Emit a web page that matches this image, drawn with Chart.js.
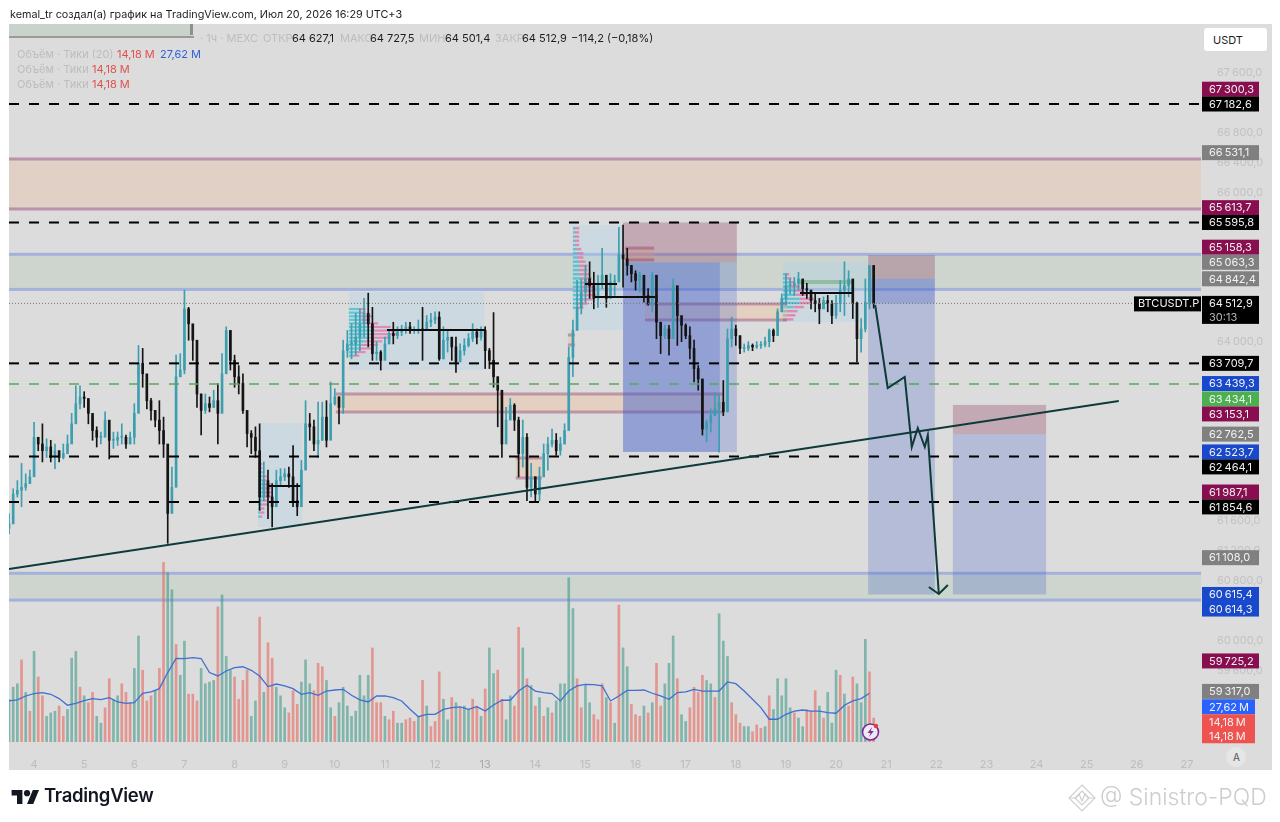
<!DOCTYPE html>
<html>
<head>
<meta charset="utf-8">
<title>BTCUSDT.P</title>
<script src="https://cdn.jsdelivr.net/npm/chart.js@4"></script>
<style>
  html, body { margin: 0; padding: 0; background: #fff; }
  body { width: 1280px; height: 822px; position: relative; overflow: hidden; font-family: Inter, "Liberation Sans", sans-serif; }
  #pane { position: absolute; left: 9px; top: 24px; width: 1263px; height: 746px; background: #dcdcdc; }
  #chart { position: absolute; left: 0; top: 0; }
  .t { position: absolute; white-space: nowrap; font-size: 11px; line-height: 14px; }
  .faint { color: #bdbdbd; }
  .dark { color: #1c1c1c; }
  .red { color: #e0524d; }
  .blue { color: #2f62d8; }
</style>
</head>
<body>
<div id="pane"></div>
<canvas id="chart" width="1280" height="822"></canvas>

<div class="t dark" style="left:10px;top:8px;font-size:10.8px">kemal_tr создал(а) график на TradingView.com, Июл 20, 2026 16:29 UTC+3</div>
<div style="position:absolute;left:9px;top:24px;width:182px;height:12px;background:#c9d3cc"></div>
<div style="position:absolute;left:9px;top:36px;width:185px;height:2px;background:#9a9a9a"></div>
<div style="position:absolute;left:190px;top:24px;width:3px;height:11px;background:#8f8f8f"></div>
<div class="t faint" style="left:200px;top:31px">· 1ч · MEXC</div>
<div class="t faint" style="left:263px;top:31px">ОТКР</div>
<div class="t dark" style="left:292px;top:31px">64 627,1</div>
<div class="t faint" style="left:340px;top:31px">МАКС</div>
<div class="t dark" style="left:370px;top:31px">64 727,5</div>
<div class="t faint" style="left:419px;top:31px">МИН</div>
<div class="t dark" style="left:445px;top:31px">64 501,4</div>
<div class="t faint" style="left:495px;top:31px">ЗАКР</div>
<div class="t dark" style="left:522px;top:31px">64 512,9</div>
<div class="t dark" style="left:571px;top:31px">−114,2 (−0,18%)</div>
<div class="t faint" style="left:17px;top:47px">Объём · Тики (20)</div>
<div class="t red" style="left:117px;top:47px">14,18 M</div>
<div class="t blue" style="left:160px;top:47px">27,62 M</div>
<div class="t faint" style="left:17px;top:62px">Объём · Тики</div>
<div class="t red" style="left:92px;top:62px">14,18 M</div>
<div class="t faint" style="left:17px;top:77px">Объём · Тики</div>
<div class="t red" style="left:92px;top:77px">14,18 M</div>

<div style="position:absolute;left:1204px;top:28px;width:63px;height:23px;background:#fff;border-radius:3px"></div>
<div class="t dark" style="left:1213px;top:33px">USDT</div>
<div style="position:absolute;left:1226px;top:747px;width:20px;height:20px;border-radius:10px;background:#e6e6e6"></div>
<div class="t" style="left:1233px;top:750px;font-size:10px;color:#555">A</div>

<svg style="position:absolute;left:861px;top:722px" width="20" height="20" viewBox="0 0 20 20">
  <circle cx="9.5" cy="10" r="8" fill="#efe9f2" stroke="#7b2d9c" stroke-width="1.6"/>
  <path d="M11 5 L6.5 11 H9.5 L8 15 L12.8 9 H9.8 Z" fill="#7b2d9c"/>
  <circle cx="15" cy="4" r="2.2" fill="#e0403c"/>
</svg>

<svg style="position:absolute;left:11px;top:787px" width="29" height="17" viewBox="0 0 36 22">
  <path d="M14 22H7V11H0V4h14v18zM28 22h-8l7.5-18h8L28 22z" fill="#131722"/>
  <circle cx="20" cy="8" r="4" fill="#131722"/>
</svg>
<div class="t" style="left:44px;top:784px;font-size:18.5px;line-height:22px;font-weight:600;color:#131722;letter-spacing:-0.3px">TradingView</div>

<svg style="position:absolute;left:1067px;top:783px" width="30" height="30" viewBox="0 0 30 30" fill="none" stroke="#cfcfcf" stroke-width="1.2">
  <path d="M15 2 L28 15 L15 28 L2 15 Z"/><path d="M15 8 L22 15 L15 22 L8 15 Z"/><path d="M2 15 H9 L12 11 L15 18 L18 11 L21 15 H28"/>
</svg>
<div class="t" style="left:1100px;top:784px;font-size:23px;line-height:26px;color:#cdcdcd;font-weight:300">@ Sinistro-PQD</div>

<script>
// 2h candles, first one sits at day 3.5
const firstDay = 3.5;
const barDays = 1 / 12;
const firstOpen = 61500;

const closes = [
  61560,61960,62010,62050,62100,62190,62720,62630,62540,62590,62450,62540,
  62450,62500,62630,62900,63170,63260,63240,63040,62810,62720,62720,62950,
  62680,62680,62720,62720,62630,62720,63040,63710,63570,63210,63080,62950,
  62810,62630,61700,62050,63530,63620,64440,64240,64020,63300,63080,63170,
  63120,63210,63040,63570,64150,63750,63530,63440,63080,62770,62720,62540,
  61920,62140,61920,61790,62140,62190,62230,62190,61870,61790,62280,62900,
  62860,62630,62680,62990,62680,63170,63260,63120,63880,63970,63970,64060,
  64240,64380,64240,63840,63860,63750,63970,64110,64080,64130,64170,64200,
  64150,64150,64170,64150,64260,64290,64330,63770,64020,64060,63930,63730,
  63880,63950,64040,64130,64060,64150,63880,63750,63530,63350,62630,62950,
  63150,62950,62500,62720,62050,62190,61960,62190,62500,62630,62680,62540,
  62630,62810,63790,64150,64460,64660,64840,64750,64580,64780,64890,64580,
  64800,64800,65160,65110,65020,64910,64820,64890,64620,64510,64890,64260,
  64080,64170,64040,64750,64350,64220,64080,63910,63640,63500,62830,62920,
  63010,63100,63190,63060,64040,64170,64080,63910,63910,63950,63930,63950,
  63960,64000,64150,64080,64400,64580,64750,64750,64780,64840,64710,64690,
  64550,64510,64440,64550,64510,64350,64510,64690,64750,64840,64510,64040,
  64170,64530,65020,64512.9
];
const highs = [
  61700,62030,62140,62370,62230,62280,62920,62720,62900,62700,62680,62630,
  62540,62630,62750,63040,63410,63410,63330,63210,62990,62860,62790,63060,
  62900,62790,62790,62900,62750,62790,63170,63950,63910,63440,63240,63080,
  63210,62990,62450,62320,63820,63840,64690,64460,64150,63750,63300,63300,
  63260,63350,63440,63840,64200,64150,63820,63680,63570,63060,62810,62860,
  62900,62390,62280,62100,62280,62300,62300,62320,62610,62100,62410,63210,
  63040,62950,63190,63190,63210,63460,63370,63260,64020,64150,64240,64380,
  64440,64580,64650,64460,64000,63880,64060,64150,64260,64200,64220,64260,
  64260,64200,64290,64460,64350,64380,64400,64400,64200,64150,64060,64060,
  63970,64040,64110,64240,64170,64200,64200,63910,64390,63530,63040,63120,
  63240,63170,62990,62950,62770,62370,62190,62320,62630,62720,62830,62770,
  62720,62900,63930,64290,64820,64840,65020,65070,64930,64890,65250,64840,
  64910,64890,65530,65560,65250,65020,64950,64930,64800,64710,64930,64620,
  64260,64220,64220,64840,64660,64260,64240,64200,64020,63680,63500,62950,
  63100,63320,63280,63480,64170,64330,64220,64080,63970,64000,63970,64000,
  64000,64060,64170,64170,64440,64640,64910,64840,64860,64930,64800,64780,
  64690,64640,64580,64600,64620,64550,64620,64820,65070,64950,64820,64530,
  64310,64840,65020,65020
];
const lows = [
  61430,61700,61920,61790,62010,62100,62450,62540,62390,62450,62390,62300,
  62390,62430,62540,62720,62950,63100,63120,62900,62680,62590,62630,62770,
  62430,62570,62610,62630,62570,62630,62630,63530,63390,63100,62950,62860,
  62630,62450,61300,61740,63390,63530,63570,64020,63750,63120,62750,63040,
  63060,63120,62630,63300,63840,63620,63390,63300,63040,62590,62500,62450,
  61740,61870,61630,61520,61870,62080,62140,62050,61790,61670,61960,62630,
  62680,62540,62450,62680,62590,63040,63150,62900,63040,63790,63770,63820,
  63880,64060,63930,63750,63750,63620,63790,63970,63970,64040,64080,64110,
  64110,64110,64110,63750,64150,64200,64240,63750,63770,63860,63750,63590,
  63730,63820,63930,64000,63970,64020,63640,63640,63390,62860,62450,62720,
  63040,62810,62190,62320,61870,61920,61870,61870,62280,62280,62590,62480,
  62480,62630,62860,63530,64200,64370,64530,64580,64440,64460,64710,64460,
  64600,64620,64840,64730,64890,64800,64690,64660,64530,64490,64400,64040,
  63840,64040,63820,64260,63950,64000,64040,63770,63460,63350,62750,62660,
  62790,63010,62520,63010,63060,63930,63950,63840,63860,63880,63880,63910,
  63910,63930,63930,64000,64150,64400,64490,64640,64620,64690,64620,64580,
  64440,64400,64240,64440,64400,64240,64310,64400,64350,64600,64310,63730,
  63860,64130,64440,64450
];
// ticks volume in millions, negative = red bar
const volumes = [
  25,32,34,-48,29,-18,53,-38,-27,15,17,18,
  -21,-15,19,49,53,-32,27,-23,-29,15,11,-20,
  -37,25,27,-34,-29,-23,43,62,-42,-24,-27,30,
  -43,-105,99,89,-57,39,59,-28,-28,-24,43,34,
  35,36,-79,86,50,42,-38,-25,-36,-42,15,24,
  -73,29,-58,-49,32,27,20,-17,-30,-22,35,48,
  34,-30,-46,-44,36,20,-15,23,32,21,15,18,
  39,27,39,-55,-23,-23,15,-13,-18,11,11,-13,
  -14,-12,15,-36,21,-9,-12,-41,25,13,-26,23,
  -20,21,19,-25,-21,15,-31,55,40,-42,-25,13,
  27,-21,-67,55,-37,33,-21,26,-15,20,-17,24,
  34,34,96,78,-37,-20,33,23,-16,-13,-34,26,
  -23,11,-80,55,44,-22,-16,-15,21,-17,23,-46,
  -21,34,46,62,-37,16,12,-20,-32,-29,-39,36,
  34,-26,75,59,50,-23,-16,-11,9,9,-6,-10,
  -8,9,-27,19,37,27,37,20,-17,14,9,-19,
  -18,-30,21,-14,29,11,42,-39,28,-21,-38,34,
  23,60,-41,-14
];
// volume MA, one value every second candle
const volumeMA = [
  24,24.6,26.9,28.3,28.9,27.9,25.4,21.5,22.6,24.2,25.4,24.8,25.9,23.4,22.6,23,28.5,29.3,
  31.2,40.6,48.9,48.8,49.3,48.8,40.6,38.6,41.5,43.5,44,41.9,38.6,32.4,33.9,32.8,31.2,27.9,
  28.9,27.3,29.8,30.4,30.8,27.3,24.6,23.4,26.9,26.9,25.9,24,19.1,14.8,16.2,16.2,19.1,
  20.1,20.5,19.1,20.7,18.1,21.6,24.4,24.4,29.8,33.2,29.8,28.9,28.3,24,29.8,32.8,33.7,33.5,
  32.8,24,26.9,30.2,30.2,30.4,28.5,26.9,25,28.9,29.3,30.8,29.8,29.8,29.8,35.1,34.1,29.8,
  25,20.1,13.3,13.3,16.2,18.1,18.7,18.1,18.1,17.2,16.8,21.5,24,25.4,28.5
];

const dayLabels = [4,5,6,7,8,9,10,11,12,13,14,15,16,17,18,19,20,21,22,23,24,25,26,27];
const axisPrices = [67600,66800,66400,66000,64000,61600,61200,60800,60000,59600];

const dashedLevels = [67182.6,65595.8,63709.7,62464.1,61854.6];
const greenLevel = 63434.1;
const lastPrice = 64512.9;

const trendDays = [3.5,25.64];
const trendPrices = [60956,63206];
const pathDays = [20.78,21.03,21.37,21.51,21.63,21.77,21.83,22.05];
const pathPrices = [64491,63380,63527,62590,62844,62590,62750,60622];
const headDays = [21.85,22.05,22.23];
const headPrices = [60715,60622,60742];

// day range and price range of drawn areas: [day0, day1, priceA, priceB]
const pinkBands = [[3.5,27.28,66446,65777]];
const blueBands = [[3.5,27.28,65170,64700],[3.5,27.28,60899,60540]];
const boxes = [
  [10.02,17.74,63300,63058],[16.19,19.02,64505,64290],[13.61,14.13,62443,62175],
  [15.79,16.37,65254,65094],[14.65,14.79,64090,63956]
];
const rangeAreas = [
  [10.28,12.98,64665,63621],[14.75,15.75,65562,64156],[18.94,20.64,65067,64263],[8.47,9.35,62911,61519]
];
// [day0, day1, price]
const pocLines = [
  [11.04,13.0,64156],[14.99,15.63,64772],[15.19,16.39,64598],[19.28,20.32,64652],[8.67,9.31,62068]
];
// [day0, day1, stop, entry, target]
const positions = [
  [15.75,18.02,65595.8,65063.3,62523.7],
  [20.64,21.97,65158.3,64842.4,60614.3],
  [22.33,24.19,63153.1,62762.5,60615.4]
];
const fadedTarget = [15.75,17.68,65063.3,62523.7];
const fadedEntry = [20.64,21.97,64842.4,64512.9];

// volume profiles, row lengths in hours
const profileDays = [10.28,14.75,18.94,8.47];
const profileTops = [64451,65536,64920,62376];
const profileRowHeights = [48,56,55,54];
const profileUp = [
  [5,5,6,6,8,10,12,10,10,8,6,5,3,2],
  [1,1,1,1,1,2,2,2,3,3,3,3,4,4,4,4,5,5,3,2],
  [1,2,3,4,5,6,8,8,5,2,1,1],
  [1,1,2,2,2,3,3,3,3,2,2,1,1,1]
];
const profileDown = [
  [3,3,5,4,6,10,12,14,10,8,8,6,5,3],
  [2,2,2,2,2,2,3,3,3,4,4,5,5,5,6,6,6,5,4,3],
  [2,2,3,4,5,6,7,6,5,5,5,4],
  [1,1,1,2,2,3,3,4,4,3,3,2,2,1]
];

// price tags on the right
const tagPrices = [67300.3,67182.6,66531.1,65613.7,65595.8,65158.3,65063.3,64842.4,63709.7,63439.3,63434.1,63153.1,62762.5,62523.7,62464.1,61987.1,61854.6,61108,60615.4,60614.3,59725.2,59317];
const tagColors = ['#880e4f','#000','#808080','#880e4f','#000','#880e4f','#808080','#808080','#000','#1848cc','#4caf50','#880e4f','#808080','#1848cc','#000','#880e4f','#000','#808080','#1848cc','#1848cc','#880e4f','#808080'];
const tagNudges = [-6,0,0,-13.5,0,-8,0,0,0,0,15,9,0,0,10.5,0,5,0,0,14.5,0,0];
const volumeTags = [27.62,14.18,14.18];
const volumeTagColors = ['#2962ff','#ef5350','#ef5350'];
const volumeTagNudges = [12,4,18];

const dayOf = (i) => firstDay + i * barDays;
const opens = closes.map((c, i) => (i ? closes[i - 1] : firstOpen));

const fmt = (v) => {
  const [a, b] = v.toFixed(1).split('.');
  return a.replace(/\B(?=(\d{3})+$)/g, '\u2009') + ',' + b;
};

const candleColor = (i) => (closes[i] >= opens[i] ? '#3c9fb0' : '#141414');
const lineData = (xs, ys) => xs.map((x, i) => ({ x, y: ys[i] }));
const flatLine = (y) => [{ x: 3.5, y }, { x: 27.28, y }];

const datasets = [
  {
    type: 'bar', order: 6, yAxisID: 'yVol', barThickness: 2,
    data: volumes.map((v, i) => ({ x: dayOf(i), y: Math.abs(v) })),
    backgroundColor: volumes.map((v) => (v >= 0 ? 'rgba(52,150,132,0.55)' : 'rgba(232,92,82,0.55)'))
  },
  {
    type: 'line', order: 5, yAxisID: 'yVol', borderColor: '#3f6fd0', borderWidth: 1.3, pointRadius: 0,
    data: volumeMA.map((v, i) => ({ x: dayOf(i * 2), y: v }))
  },
  {
    type: 'bar', order: 4, yAxisID: 'y', barThickness: 1,
    data: closes.map((c, i) => ({ x: dayOf(i), y: [lows[i], highs[i]] })),
    backgroundColor: closes.map((c, i) => candleColor(i))
  },
  {
    type: 'bar', order: 3, yAxisID: 'y', barThickness: 2, minBarLength: 1,
    data: closes.map((c, i) => ({ x: dayOf(i), y: [opens[i], c] })),
    backgroundColor: closes.map((c, i) => candleColor(i))
  },
  ...dashedLevels.map((p) => ({
    type: 'line', order: 2, yAxisID: 'y', data: flatLine(p), borderColor: '#000', borderWidth: 2,
    borderDash: [10, 10], pointRadius: 0
  })),
  {
    type: 'line', order: 2, yAxisID: 'y', data: flatLine(greenLevel), borderColor: '#57a85c', borderWidth: 1.4,
    borderDash: [10, 10], pointRadius: 0
  },
  {
    type: 'line', order: 2, yAxisID: 'y', data: flatLine(lastPrice), borderColor: '#777', borderWidth: 1,
    borderDash: [1, 2], pointRadius: 0
  },
  ...pocLines.map(([a, b, p]) => ({
    type: 'line', order: 2, yAxisID: 'y', data: [{ x: a, y: p }, { x: b, y: p }], borderColor: '#0c0c0c',
    borderWidth: 2, pointRadius: 0
  })),
  {
    type: 'line', order: 1, yAxisID: 'y', data: lineData(trendDays, trendPrices), borderColor: '#0e3a3a',
    borderWidth: 2, pointRadius: 0
  },
  {
    type: 'line', order: 1, yAxisID: 'y', data: lineData(pathDays, pathPrices), borderColor: '#0e3a3a',
    borderWidth: 2, pointRadius: 0
  },
  {
    type: 'line', order: 1, yAxisID: 'y', data: lineData(headDays, headPrices), borderColor: '#0e3a3a',
    borderWidth: 2, pointRadius: 0
  }
];

const areasPlugin = {
  id: 'areas',
  beforeDatasetsDraw(chart) {
    const { ctx, scales: { x, y } } = chart;
    const fill = (a, b, p, q, color) => {
      ctx.fillStyle = color;
      ctx.fillRect(x.getPixelForValue(a), y.getPixelForValue(p), x.getPixelForValue(b) - x.getPixelForValue(a), y.getPixelForValue(q) - y.getPixelForValue(p));
    };
    const edge = (a, b, p, color, w) => {
      ctx.fillStyle = color;
      ctx.fillRect(x.getPixelForValue(a), y.getPixelForValue(p) - w / 2, x.getPixelForValue(b) - x.getPixelForValue(a), w);
    };

    pinkBands.forEach(([a, b, p, q]) => {
      fill(a, b, p, q, '#e0d0c6');
      edge(a, b, p, '#bb92a9', 3);
      edge(a, b, q, '#bb92a9', 3);
    });
    blueBands.forEach(([a, b, p, q]) => {
      fill(a, b, p, q, '#cdd5ce');
      edge(a, b, p, '#a3b2dc', 3);
      edge(a, b, q, '#a3b2dc', 3);
    });
    rangeAreas.forEach(([a, b, p, q]) => fill(a, b, p, q, 'rgba(170,212,232,0.32)'));

    profileDays.forEach((day, n) => {
      profileUp[n].forEach((len, r) => {
        const top = profileTops[n] - r * profileRowHeights[n];
        const bottom = top - profileRowHeights[n] * 0.6;
        const mid = day + len / 24;
        fill(day, mid, top, bottom, 'rgba(60,190,205,0.75)');
        fill(mid, mid + profileDown[n][r] / 24, top, bottom, 'rgba(235,95,150,0.65)');
      });
    });
    fill(19.28, 20.32, 64826, 64772, 'rgba(110,170,120,0.55)');

    boxes.forEach(([a, b, p, q]) => {
      fill(a, b, p, q, 'rgba(238,190,150,0.38)');
      edge(a, b, p, 'rgba(145,60,110,0.42)', 3);
      edge(a, b, q, 'rgba(145,60,110,0.42)', 3);
    });

    positions.forEach(([a, b, stop, entry, target]) => {
      fill(a, b, stop, entry, 'rgba(137,53,90,0.3)');
      fill(a, b, entry, target, 'rgba(60,90,200,0.25)');
    });
    fill(fadedTarget[0], fadedTarget[1], fadedTarget[2], fadedTarget[3], 'rgba(60,90,200,0.28)');
    fill(fadedEntry[0], fadedEntry[1], fadedEntry[2], fadedEntry[3], 'rgba(60,90,200,0.22)');
  }
};

const tagsPlugin = {
  id: 'tags',
  afterDraw(chart) {
    const { ctx, scales: { y, yVol } } = chart;
    const tag = (py, text, color, w = 57) => {
      ctx.fillStyle = color;
      ctx.fillRect(1202, py - 7.5, w, 15);
      ctx.fillStyle = '#f2f2f2';
      ctx.font = '11px Inter, "Liberation Sans", sans-serif';
      ctx.textBaseline = 'middle';
      ctx.textAlign = 'left';
      ctx.fillText(text, 1209, py + 0.5);
    };
    tagPrices.forEach((p, i) => tag(y.getPixelForValue(p) + tagNudges[i], fmt(p), tagColors[i]));
    volumeTags.forEach((v, i) => tag(yVol.getPixelForValue(v) + volumeTagNudges[i], v.toFixed(2).replace('.', ',') + '\u2009M', volumeTagColors[i], 53));

    // last price has the countdown under it and the symbol next to it
    const py = y.getPixelForValue(lastPrice);
    ctx.fillStyle = '#000';
    ctx.fillRect(1202, py - 7.5, 57, 28);
    ctx.fillRect(1134, py - 7, 67, 15);
    ctx.fillStyle = '#f2f2f2';
    ctx.fillText(fmt(lastPrice), 1209, py + 0.5);
    ctx.fillText('BTCUSDT.P', 1138, py + 0.5);
    ctx.fillStyle = '#b5b5b5';
    ctx.fillText('30:13', 1209, py + 14);
  }
};

new Chart(document.getElementById('chart'), {
  data: { datasets },
  plugins: [areasPlugin, tagsPlugin],
  options: {
    responsive: false,
    animation: false,
    devicePixelRatio: 1,
    layout: { padding: { left: 9, top: 27, right: 8, bottom: 52 } },
    plugins: { legend: { display: false }, tooltip: { enabled: false } },
    datasets: { bar: { grouped: false } },
    scales: {
      x: {
        type: 'linear', min: 3.5, max: 27.28, offset: false,
        grid: { display: false }, border: { display: false },
        afterBuildTicks: (s) => { s.ticks = dayLabels.map((value) => ({ value })); },
        afterFit: (s) => { s.height = 28; },
        ticks: {
          autoSkip: false, maxRotation: 0, padding: 8, callback: (v) => v,
          color: (c) => (c.tick.value === 13 ? '#a8a8a8' : '#bdbdbd'),
          font: { family: 'Inter', size: 11 }
        }
      },
      y: {
        type: 'linear', position: 'right', min: 58639.8, max: 68213.6,
        grid: { display: false }, border: { display: false },
        afterBuildTicks: (s) => { s.ticks = axisPrices.map((value) => ({ value })); },
        afterFit: (s) => { s.width = 71; },
        ticks: {
          autoSkip: false, padding: 8, callback: (v) => fmt(v), color: '#c2c2c2',
          font: { family: 'Inter', size: 11 }
        }
      },
      yVol: { type: 'linear', display: false, min: 0, max: 418 }
    }
  }
});
</script>
</body>
</html>
